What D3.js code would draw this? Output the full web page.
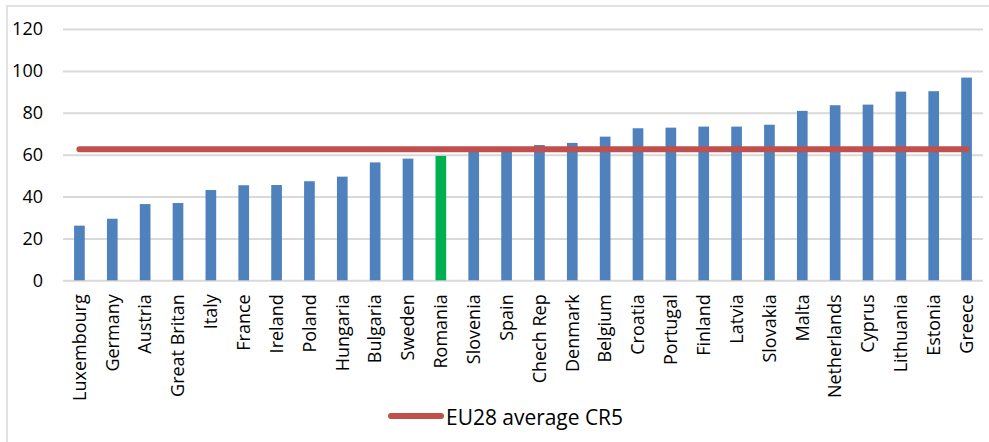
<!DOCTYPE html>
<html>
<head>
<meta charset="utf-8">
<script src="https://cdn.jsdelivr.net/npm/d3@7"></script>
<style>
  html, body { margin: 0; padding: 0; background: #fff; }
  svg { display: block; }
  text { font-family: "Open Sans", sans-serif; fill: #000; }
</style>
</head>
<body>
<svg id="chart" width="989" height="442"></svg>
<script>
const categories = ["Luxembourg","Germany","Austria","Great Britan","Italy","France","Ireland","Poland","Hungaria","Bulgaria","Sweden","Romania","Slovenia","Spain","Chech Rep","Denmark","Belgium","Croatia","Portugal","Finland","Latvia","Slovakia","Malta","Netherlands","Cyprus","Lithuania","Estonia","Greece"];
const cr5Values = [26.1,29.4,36.4,36.9,43.1,45.4,45.5,47.3,49.5,56.3,58.1,59.4,61.8,62.3,64.6,65.6,68.6,72.6,72.9,73.4,73.4,74.3,80.9,83.6,83.9,90.1,90.3,96.8];
const eu28Average = 62.6;
const highlighted = ["Romania"];
const yTicks = [0,20,40,60,80,100,120];
const legendLabel = "EU28 average CR5";

const svg = d3.select("#chart");
const plotLeft = 63, plotRight = 983, plotTop = 29, plotBottom = 280.3;

// chart border (cropped on right/bottom)
svg.append("rect").attr("x", 7).attr("y", 6).attr("width", 1100).attr("height", 600)
  .attr("fill", "none").attr("stroke", "#d9d9d9").attr("stroke-width", 1.5);

const x = d3.scaleBand().domain(categories).range([plotLeft, plotRight]).paddingInner(0.675).paddingOuter(0.3375);
const y = d3.scaleLinear().domain([0, 120]).range([plotBottom, plotTop]);

// gridlines
const yAxis = d3.axisLeft(y).tickValues(yTicks).tickSize(-(plotRight - plotLeft)).tickPadding(20);
const gy = svg.append("g").attr("transform", `translate(${plotLeft},0)`).call(yAxis);
gy.select(".domain").remove();
gy.selectAll(".tick line").attr("stroke", "#d9d9d9").attr("stroke-width", 2);
gy.selectAll(".tick text").attr("font-size", 18).attr("font-family", "Open Sans").attr("fill", "#000");

// bars
svg.append("g").selectAll("rect").data(categories).join("rect")
  .attr("x", d => x(d))
  .attr("width", x.bandwidth())
  .attr("y", (d, i) => y(cr5Values[i]))
  .attr("height", (d, i) => y(0) - y(cr5Values[i]))
  .attr("fill", d => highlighted.includes(d) ? "#00b050" : "#4f81bd");

// x axis labels
const xAxis = d3.axisBottom(x).tickSize(0).tickPadding(0);
const gx = svg.append("g").attr("transform", `translate(0,${plotBottom})`).call(xAxis);
gx.select(".domain").remove();
gx.selectAll(".tick text")
  .attr("font-size", 18).attr("font-family", "Open Sans").attr("fill", "#000")
  .attr("transform", "rotate(-90)")
  .attr("text-anchor", "end")
  .attr("x", -14).attr("y", 0).attr("dy", "0.35em");

// average line
const cx = d => x(d) + x.bandwidth() / 2;
svg.append("line")
  .attr("x1", cx(categories[0])).attr("x2", cx(categories[categories.length - 1]))
  .attr("y1", y(eu28Average)).attr("y2", y(eu28Average))
  .attr("stroke", "#c0504d").attr("stroke-width", 6).attr("stroke-linecap", "round");

// legend
const lg = svg.append("g");
lg.append("line").attr("x1", 391).attr("x2", 441).attr("y1", 416).attr("y2", 416)
  .attr("stroke", "#c0504d").attr("stroke-width", 6).attr("stroke-linecap", "round");
const lt = lg.append("text").attr("x", 446).attr("y", 424.5)
  .attr("font-size", 22).attr("font-family", "Open Sans").text(legendLabel);
lt.attr("textLength", 177).attr("lengthAdjust", "spacingAndGlyphs");
</script>
</body>
</html>
